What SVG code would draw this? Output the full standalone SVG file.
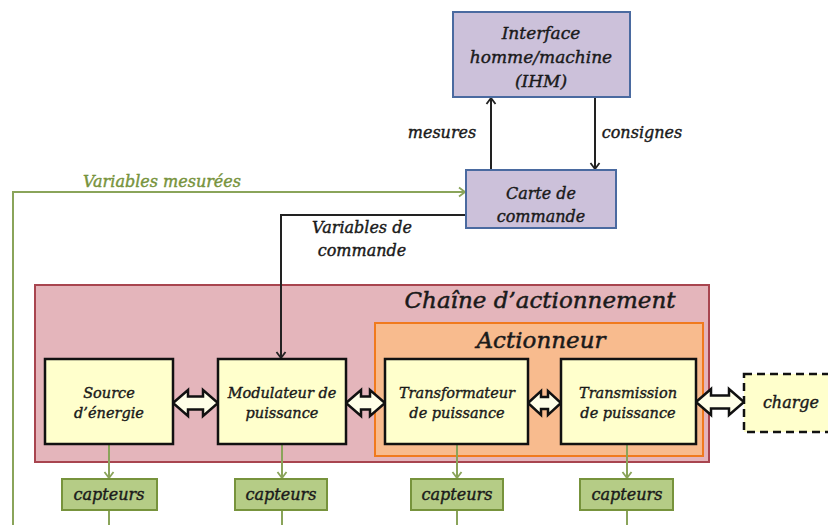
<svg xmlns="http://www.w3.org/2000/svg" width="828" height="525" viewBox="0 0 828 525">
<defs>
<style>
text{font-family:"DejaVu Serif","Liberation Serif",serif;font-style:italic;text-anchor:middle;fill:#1a1a1a;stroke:#1a1a1a;stroke-width:0.4}
.t14{font-size:14.5px}
.t16{font-size:16px}
.t17{font-size:17px}
.t23{font-size:23px;stroke-width:0.5}
.gt{fill:#77933c;stroke:#77933c}
.purple{fill:#ccc1da;stroke:#4a6aa0;stroke-width:2}
.yel{fill:#ffffcc;stroke:#111;stroke-width:2.5}
.cap{fill:#b5cc86;stroke:#77933c;stroke-width:2}
.dbl{fill:#ffffe8;stroke:#111;stroke-width:2.5;stroke-linejoin:miter}
.blk{fill:none;stroke:#222;stroke-width:2}
.grn{fill:none;stroke:#8aa45a;stroke-width:2}
</style>
<marker id="ab" markerWidth="12" markerHeight="12" refX="9" refY="6" orient="auto" markerUnits="userSpaceOnUse">
<path d="M3,1.5 L9,6 L3,10.5" fill="none" stroke="#222" stroke-width="1.8"/>
</marker>
<marker id="ag" markerWidth="12" markerHeight="12" refX="9" refY="6" orient="auto" markerUnits="userSpaceOnUse">
<path d="M3,1.5 L9,6 L3,10.5" fill="none" stroke="#8aa45a" stroke-width="1.8"/>
</marker>
</defs>

<g id="chaine">
<rect x="35" y="285" width="674" height="177" fill="#e4b5bb" stroke="#a8454f" stroke-width="2"/>
<text class="t23" x="540" y="308">Chaîne d’actionnement</text>
</g>
<g id="actionneur">
<rect x="375" y="323" width="328" height="133" fill="#f8bb8e" stroke="#f07a1e" stroke-width="2"/>
<text class="t23" x="541" y="348">Actionneur</text>
</g>

<g id="connectors">
<path class="blk" d="M491,170 V98" marker-end="url(#ab)"/>
<path class="blk" d="M595,97 V169" marker-end="url(#ab)"/>
<path class="blk" d="M466,215 H281 V358" marker-end="url(#ab)"/>
<path class="grn" d="M13,525 V192 H465" marker-end="url(#ag)"/>
<path class="grn" d="M109,445 V478" marker-end="url(#ag)"/>
<path class="grn" d="M282,445 V478" marker-end="url(#ag)"/>
<path class="grn" d="M457,445 V478" marker-end="url(#ag)"/>
<path class="grn" d="M627,445 V478" marker-end="url(#ag)"/>
<path class="grn" d="M109,511 V525 M282,511 V525 M457,511 V525 M627,511 V525"/>
<path class="dbl" d="M173,403 L188,390 L188,396.5 L203,396.5 L203,390 L218,403 L203,416 L203,409.5 L188,409.5 L188,416 Z"/>
<path class="dbl" d="M346,403 L361,390 L361,396.5 L370,396.5 L370,390 L385,403 L370,416 L370,409.5 L361,409.5 L361,416 Z"/>
<path class="dbl" d="M528,403 L541,391 L541,397 L548,397 L548,391 L561,403 L548,415 L548,409 L541,409 L541,415 Z"/>
<path class="dbl" d="M696,402 L711,389 L711,395.5 L729,395.5 L729,389 L744,402 L729,415 L729,408.5 L711,408.5 L711,415 Z"/>
<text class="t16" x="442" y="138">mesures</text>
<text class="t16" x="642" y="138">consignes</text>
<text class="t16 gt" x="162" y="187">Variables mesurées</text>
<text class="t16" x="362" y="233">Variables de</text>
<text class="t16" x="362" y="256">commande</text>
</g>

<g id="ihm">
<rect class="purple" x="453" y="12" width="177" height="85"/>
<text class="t17" x="541" y="39">Interface</text>
<text class="t17" x="541" y="63">homme/machine</text>
<text class="t17" x="541" y="87">(IHM)</text>
</g>
<g id="carte">
<rect class="purple" x="466" y="170" width="150" height="58"/>
<text class="t16" x="541" y="199">Carte de</text>
<text class="t16" x="541" y="222">commande</text>
</g>

<g id="source">
<rect class="yel" x="45" y="359" width="128" height="85"/>
<text class="t14" x="109" y="398">Source</text>
<text class="t14" x="109" y="418">d’énergie</text>
</g>
<g id="modulateur">
<rect class="yel" x="218" y="359" width="128" height="85"/>
<text class="t14" x="282" y="398">Modulateur de</text>
<text class="t14" x="282" y="418">puissance</text>
</g>
<g id="transformateur">
<rect class="yel" x="385" y="359" width="143" height="85"/>
<text class="t14" x="457" y="398">Transformateur</text>
<text class="t14" x="457" y="418">de puissance</text>
</g>
<g id="transmission">
<rect class="yel" x="561" y="359" width="135" height="85"/>
<text class="t14" x="628" y="398">Transmission</text>
<text class="t14" x="628" y="418">de puissance</text>
</g>
<g id="charge">
<rect x="744" y="374" width="100" height="58" fill="#ffffcc" stroke="#111" stroke-width="2.5" stroke-dasharray="8,5"/>
<text class="t16" x="791" y="408">charge</text>
</g>

<g id="capteurs1"><rect class="cap" x="62" y="479" width="95" height="31"/><text class="t16" x="109" y="500">capteurs</text></g>
<g id="capteurs2"><rect class="cap" x="235" y="479" width="92" height="31"/><text class="t16" x="281" y="500">capteurs</text></g>
<g id="capteurs3"><rect class="cap" x="411" y="479" width="92" height="31"/><text class="t16" x="457" y="500">capteurs</text></g>
<g id="capteurs4"><rect class="cap" x="580" y="479" width="93" height="31"/><text class="t16" x="627" y="500">capteurs</text></g>
</svg>
